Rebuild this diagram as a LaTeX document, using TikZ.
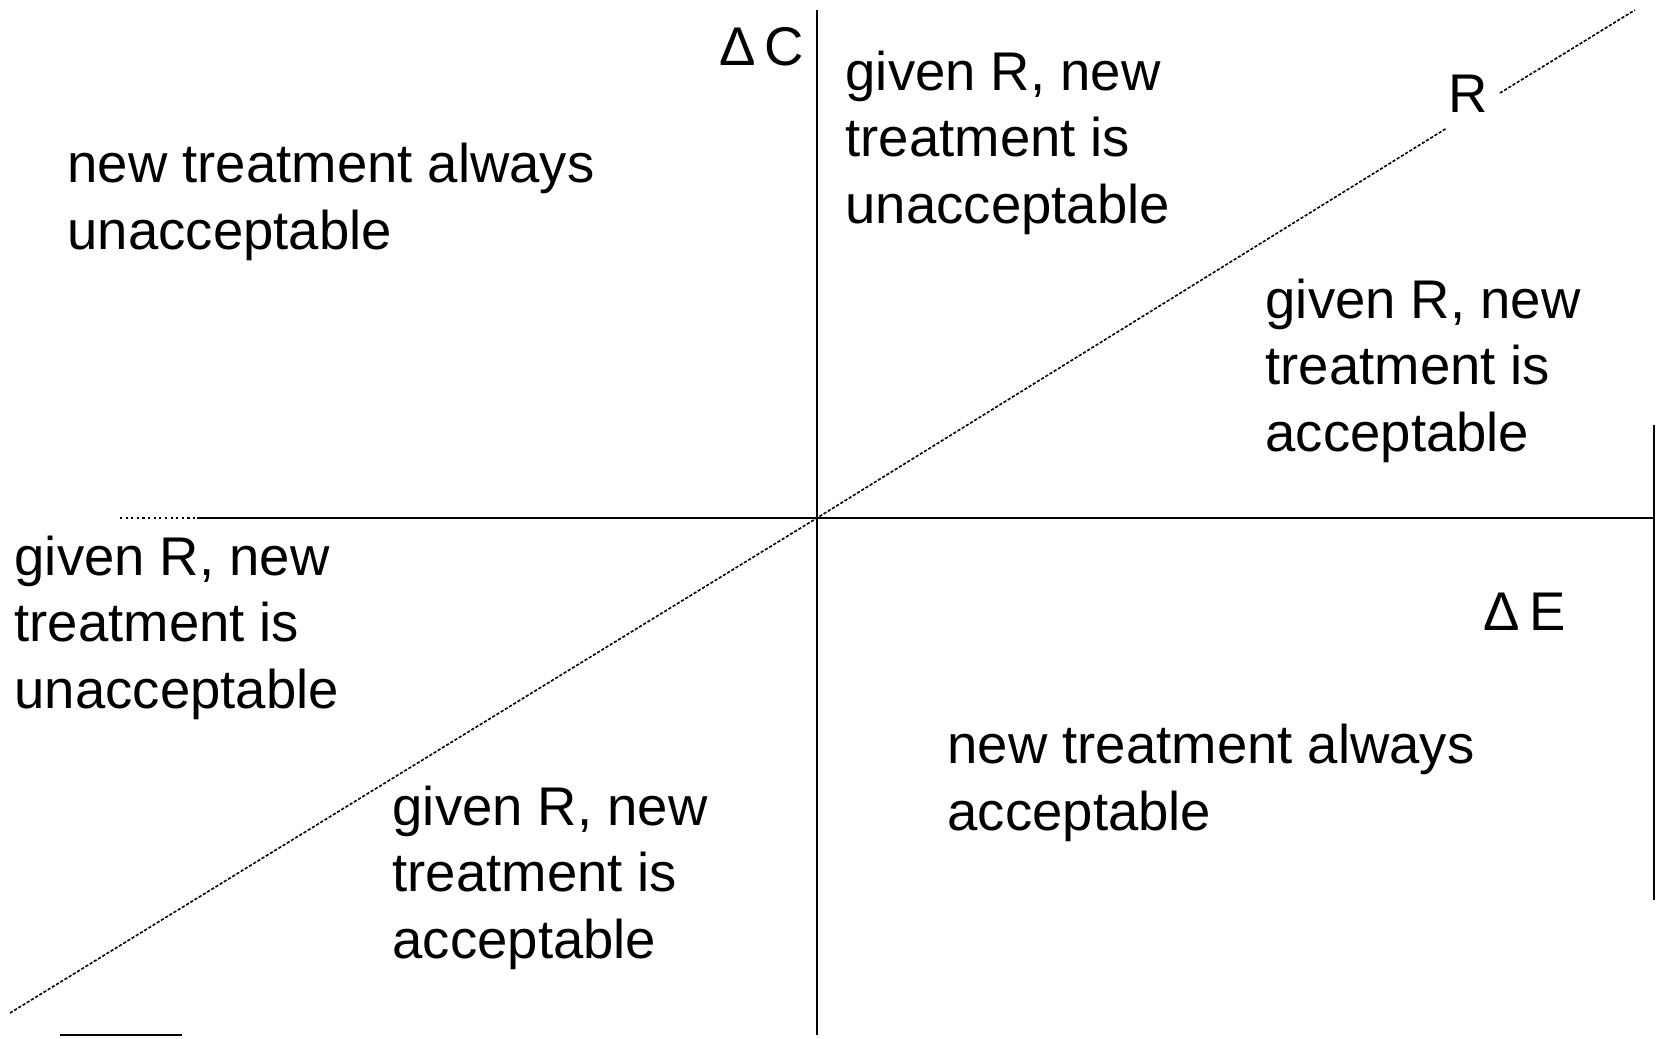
\documentclass[tikz,border=0pt]{standalone}
\usepackage{fontspec}
\setmainfont{Liberation Sans}
\usetikzlibrary{positioning}
\tikzset{
  axis/.style={line width=0.6pt},
  rline/.style={line width=0.45pt, dash pattern=on 0.9pt off 0.5pt},
  region/.style={anchor=base west, align=left, inner sep=0pt},
  lbl/.style={inner sep=0pt}
}
\begin{document}
\begin{tikzpicture}[font=\fontsize{15.5}{18.8}\selectfont]
\useasboundingbox (-8.17,-5.20) rectangle (8.39,5.18);
\coordinate (o) at (0,0);
\coordinate[above=5.08cm of o](c1);
\coordinate[below=5.17cm of o](c2);
\coordinate[right=8.37cm of o](e1);
\coordinate[left=6.20cm of o](e2);
\coordinate[left=6.97cm of o](e3);
\coordinate (r1) at (-8.07,-4.95);
\coordinate (r2) at (6.30,3.90);
\coordinate (r3) at (6.83,4.25);
\coordinate (r4) at (8.18,5.08);
\coordinate (f1) at (8.37,0.93);
\coordinate (f2) at (8.37,-3.82);
\coordinate (g1) at (-7.57,-5.17);
\coordinate (g2) at (-6.35,-5.17);
\node[lbl, anchor=base east] (dc) at (-0.12,4.53) {Δ\,C};
\node[lbl, anchor=base west] (de) at (6.66,-1.12) {Δ\,E};
\node[lbl, anchor=base west] (rr) at (6.31,4.06) {R};
\node[region] (tl) at (-7.50,2.69) {new treatment always\\unacceptable};
\node[region] (tr) at (0.28,2.95) {given R, new\\treatment is\\unacceptable};
\node[region] (rt) at (4.48,0.67) {given R, new\\treatment is\\acceptable};
\node[region] (lt) at (-8.03,-1.90) {given R, new\\treatment is\\unacceptable};
\node[region] (br) at (1.30,-3.12) {new treatment always\\acceptable};
\node[region] (bl) at (-4.25,-4.40) {given R, new\\treatment is\\acceptable};
\draw[axis] (c1) -- (c2);
\draw[axis] (e2) -- (e1);
\draw[axis, densely dotted] (e3) -- (e2);
\draw[rline] (r1) -- (o) -- (r2);
\draw[rline] (r3) -- (r4);
\draw[axis] (f1) -- (f2);
\draw[axis] (g1) -- (g2);
\end{tikzpicture}
\end{document}
